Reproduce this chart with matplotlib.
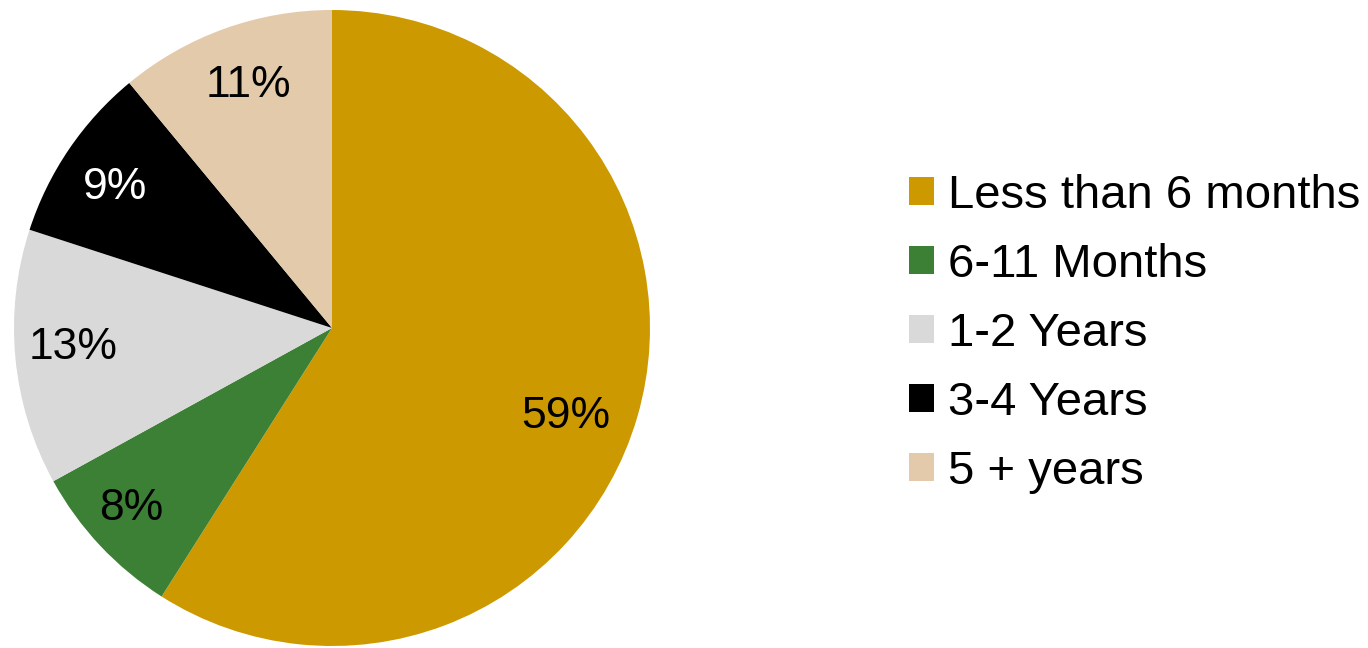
import matplotlib
matplotlib.use("Agg")
import matplotlib.pyplot as plt
from matplotlib.patches import Patch
import numpy as np

categories = ["Less than 6 months", "6-11 Months", "1-2 Years", "3-4 Years", "5 + years"]
values = [59, 8, 13, 9, 11]
colors = ["#CC9A00", "#3B8034", "#D9D9D9", "#000000", "#E2CAAA"]

plt.rcParams['font.family'] = ['Liberation Sans', 'DejaVu Sans']

# label placement tweaks (radius fraction, angle nudge in degrees)
label_r = [0.78, 0.84, 0.815, 0.82, 0.82]
label_nudge = [-3.5, -2.0, -2.0, 0.5, -1.0]

W, H = 1368, 648
fig = plt.figure(figsize=(W / 100, H / 100), dpi=100)
cx, cy, R = 332, 328, 318
ax = fig.add_axes([(cx - R) / W, (H - cy - R) / H, 2 * R / W, 2 * R / H])

wedges, texts = ax.pie(
    values, colors=colors, startangle=90, counterclock=False, radius=1,
    wedgeprops=dict(linewidth=0))
total = sum(values)
for w, v, c, r, nd in zip(wedges, values, colors, label_r, label_nudge):
    mid = np.deg2rad((w.theta1 + w.theta2) / 2 + nd)
    ax.text(r * np.cos(mid), r * np.sin(mid), f"{100 * v / total:.0f}%",
            ha="center", va="center_baseline", fontsize=32,
            color="white" if c == "#000000" else "black")
ax.set_xlim(-1, 1)
ax.set_ylim(-1, 1)
ax.set_aspect("equal")
ax.axis("off")

handles = [Patch(facecolor=c, edgecolor="none") for c in colors]
fig.legend(handles, categories, loc="center left",
           bbox_to_anchor=(909 / W, 1 - 334 / H), frameon=False,
           fontsize=34, handlelength=0.53, handleheight=0.53,
           handletextpad=0.3, labelspacing=0.53, borderaxespad=0, borderpad=0)

fig.savefig("out.png", dpi=100)
